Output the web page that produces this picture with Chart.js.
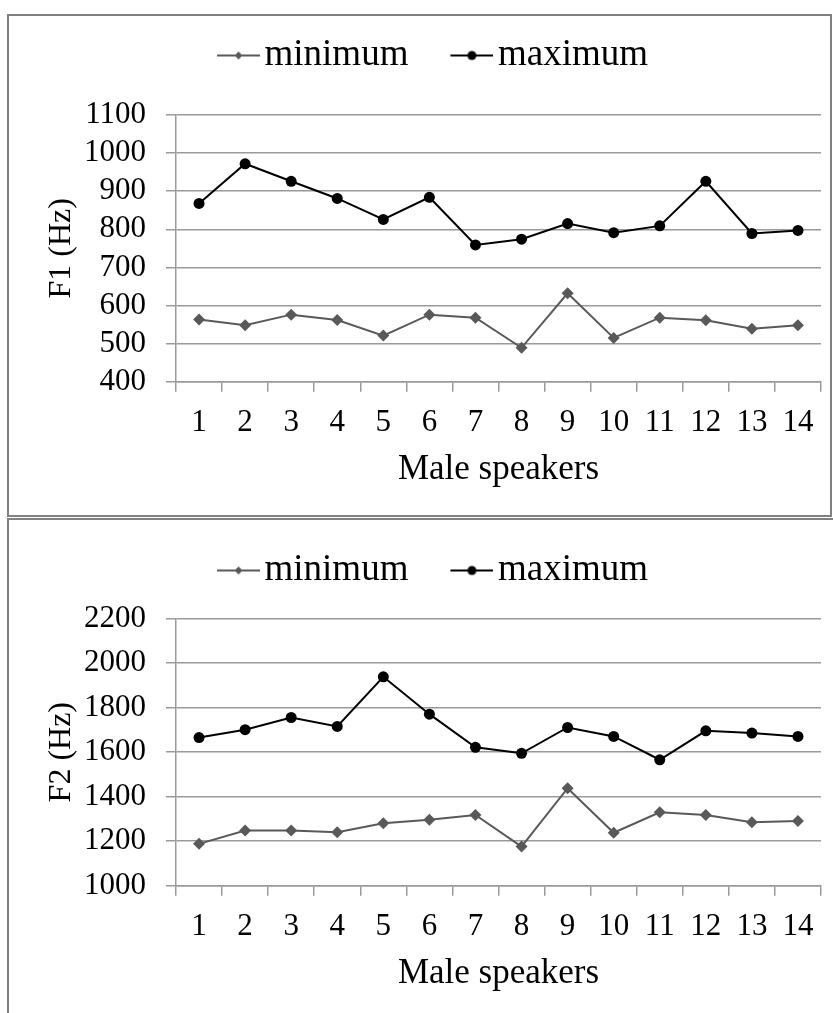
<!DOCTYPE html>
<html>
<head>
<meta charset="utf-8">
<title>F1 / F2 male speakers</title>
<script src="https://cdn.jsdelivr.net/npm/chart.js@4.4.1/dist/chart.umd.min.js"></script>
<style>
    html, body { margin: 0; padding: 0; background: #fff; }
    body { width: 833px; height: 1013px; position: relative; overflow: hidden; }
    .panel { position: absolute; box-sizing: border-box; }
    #panelF1 { left: 7px; top: 14px; width: 825px; height: 503px; border: 2px solid #808080; }
    #panelF2 { left: 7px; top: 518px; width: 900px; height: 600px; border-left: 2px solid #808080; border-top: 2px solid #808080; }
    canvas { position: absolute; left: 0; }
    #graficaF1 { top: 0; }
    #graficaF2 { top: 515px; }
</style>
</head>
<body>
<div class="panel" id="panelF1"></div>
<div class="panel" id="panelF2"></div>
<canvas id="graficaF1" width="833" height="515"></canvas>
<canvas id="graficaF2" width="833" height="498"></canvas>
<script>
"use strict";

/**
 * Datos
 */
const speakers = ["1", "2", "3", "4", "5", "6", "7", "8", "9", "10", "11", "12", "13", "14"];
const seriesNames = ["minimum", "maximum"];

const f1Minimum = [563, 548, 576, 562, 521, 576, 568, 489, 632, 515, 568, 561, 539, 548];
const f1Maximum = [868, 972, 926, 881, 826, 884, 759, 774, 815, 791, 809, 926, 789, 797];

const f2Minimum = [1188, 1248, 1248, 1240, 1281, 1296, 1318, 1176, 1438, 1238, 1330, 1318, 1285, 1291];
const f2Maximum = [1666, 1701, 1756, 1716, 1939, 1771, 1622, 1595, 1711, 1671, 1566, 1696, 1686, 1671];

const f1Ticks = [400, 500, 600, 700, 800, 900, 1000, 1100];
const f2Ticks = [1000, 1200, 1400, 1600, 1800, 2000, 2200];

document.addEventListener("DOMContentLoaded", () => {
    const graficaF1 = document.querySelector("#graficaF1");
    const graficaF2 = document.querySelector("#graficaF2");

    const serif = "'Liberation Serif', 'Times New Roman', serif";
    const gridColor = "#9a9a9a";
    const minColor = "#595959";
    const maxColor = "#000000";

    Chart.defaults.font.family = serif;
    Chart.defaults.color = "#000";

    /**
     * Espacio extra debajo de la leyenda
     */
    const espacioLeyenda = {
        id: "espacioLeyenda",
        beforeLayout(chart, args, opts) {
            const legend = chart.legend;
            if (legend && !legend._espacio) {
                const fit = legend.fit;
                legend.fit = function () {
                    fit.call(this);
                    this.height += opts.extra || 0;
                };
                legend._espacio = true;
            }
        },
    };

    /**
     * Icono de la leyenda: linea con el marcador en el centro
     */
    function iconoLeyenda(offset, boxWidth, color, style, radius) {
        const lineLength = 43;
        const half = offset + lineLength - boxWidth / 2;
        const icon = document.createElement("canvas");
        icon.width = Math.round(half * 2);
        icon.height = 16;
        const ctx = icon.getContext("2d");
        const x0 = icon.width - lineLength;
        const cx = x0 + lineLength / 2;

        ctx.strokeStyle = color;
        ctx.fillStyle = color;
        ctx.lineWidth = 2;
        ctx.beginPath();
        ctx.moveTo(x0, 8);
        ctx.lineTo(icon.width, 8);
        ctx.stroke();

        ctx.beginPath();
        if (style === "circle") {
            ctx.arc(cx, 8, radius, 0, Math.PI * 2);
        } else {
            ctx.moveTo(cx, 8 - radius);
            ctx.lineTo(cx + radius, 8);
            ctx.lineTo(cx, 8 + radius);
            ctx.lineTo(cx - radius, 8);
            ctx.closePath();
        }
        ctx.fill();
        return icon;
    }

    function graficaFormante(canvas, minimos, maximos, ticks, titulo, caja) {
        const offset = 32;
        const boxWidth = 61;
        const iconos = [
            iconoLeyenda(offset, boxWidth, minColor, "diamond", 4),
            iconoLeyenda(offset, boxWidth, maxColor, "circle", 4.5),
        ];

        const valores = {
            labels: speakers,
            datasets: [
                {
                    label: seriesNames[0],
                    data: minimos,
                    borderColor: minColor,
                    backgroundColor: minColor,
                    borderWidth: 2,
                    pointStyle: "rectRot",
                    pointRadius: 6,
                    pointBorderWidth: 0,
                    tension: 0,
                },
                {
                    label: seriesNames[1],
                    data: maximos,
                    borderColor: maxColor,
                    backgroundColor: maxColor,
                    borderWidth: 2,
                    pointStyle: "circle",
                    pointRadius: 5.5,
                    pointBorderWidth: 0,
                    tension: 0,
                },
            ],
        };

        new Chart(canvas, {
            type: "line",
            data: valores,
            plugins: [espacioLeyenda],
            options: {
                responsive: false,
                animation: false,
                layout: {
                    padding: {
                        left: 12,
                        right: 12,
                        top: 27,
                        bottom: caja.bottom,
                    },
                },
                plugins: {
                    tooltip: { enabled: false },
                    espacioLeyenda: { extra: caja.extra },
                    legend: {
                        position: "top",
                        align: "center",
                        labels: {
                            usePointStyle: true,
                            pointStyleWidth: boxWidth,
                            padding: 10,
                            color: "#000",
                            font: { size: 37 },
                            generateLabels: (chart) => {
                                const items = Chart.defaults.plugins.legend.labels.generateLabels(chart);
                                items.forEach((item, i) => {
                                    item.pointStyle = iconos[i];
                                });
                                return items;
                            },
                        },
                    },
                },
                scales: {
                    x: {
                        offset: true,
                        grid: {
                            offset: true,
                            drawOnChartArea: false,
                            drawTicks: true,
                            tickLength: 10,
                            color: gridColor,
                            lineWidth: 1.5,
                        },
                        border: { color: gridColor, width: 1.5 },
                        ticks: {
                            padding: 13,
                            maxRotation: 0,
                            autoSkip: false,
                            font: { size: 31 },
                        },
                        title: {
                            display: true,
                            text: "Male speakers",
                            font: { size: 35 },
                            padding: { top: 0, bottom: 0 },
                        },
                        afterFit: (scale) => {
                            scale.height = 109.3;
                        },
                    },
                    y: {
                        min: ticks[0],
                        max: ticks[ticks.length - 1],
                        ticks: {
                            padding: 20,
                            autoSkip: false,
                            font: { size: 31 },
                            callback: (value) => String(value),
                        },
                        afterBuildTicks: (scale) => {
                            scale.ticks = ticks.map((value) => ({ value }));
                        },
                        grid: {
                            color: gridColor,
                            lineWidth: 1.5,
                            tickLength: 10,
                        },
                        border: { color: gridColor, width: 1.5 },
                        title: {
                            display: true,
                            text: titulo,
                            font: { size: 32 },
                            padding: { top: 30, bottom: 0 },
                        },
                        afterFit: (scale) => {
                            scale.width = 164;
                        },
                    },
                },
            },
        });
    }

    graficaFormante(graficaF1, f1Minimum, f1Maximum, f1Ticks, "F1 (Hz)", {
        extra: 31,
        bottom: 24,
    });

    graficaFormante(graficaF2, f2Minimum, f2Maximum, f2Ticks, "F2 (Hz)", {
        extra: 19.7,
        bottom: 18,
    });
});
</script>
</body>
</html>
